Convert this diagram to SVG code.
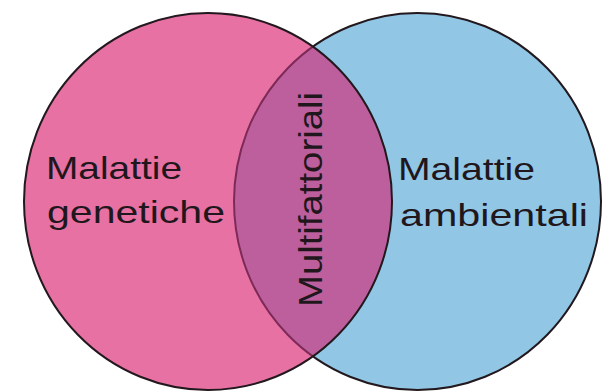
<svg xmlns="http://www.w3.org/2000/svg" width="607" height="392" viewBox="0 0 607 392">
  <style>
    .lbl { font-family: "Liberation Sans", Arial, sans-serif; font-size: 32px; fill: #1f171c; }
    .edge { fill: none; stroke: #22181d; stroke-width: 2; }
  </style>
  <defs>
    <clipPath id="clipLeft">
      <ellipse cx="208" cy="201.5" rx="184" ry="188.5"/>
    </clipPath>
  </defs>
  <rect width="607" height="392" fill="#ffffff"/>
  <g id="ambientali">
    <ellipse cx="417.5" cy="201.5" rx="183.5" ry="188.5" fill="#92c6e5" stroke="#22181d" stroke-width="2"/>
    <text class="lbl" x="398" y="180" textLength="137" lengthAdjust="spacingAndGlyphs">Malattie</text>
    <text class="lbl" x="400" y="226" textLength="188" lengthAdjust="spacingAndGlyphs">ambientali</text>
  </g>
  <g id="genetiche">
    <ellipse cx="208" cy="201.5" rx="184" ry="188.5" fill="#e771a3"/>
    <text class="lbl" x="46" y="179" textLength="136" lengthAdjust="spacingAndGlyphs">Malattie</text>
    <text class="lbl" x="47" y="223" textLength="178" lengthAdjust="spacingAndGlyphs">genetiche</text>
  </g>
  <g id="multifattoriali">
    <g clip-path="url(#clipLeft)">
      <ellipse cx="417.5" cy="201.5" rx="183.5" ry="188.5" fill="#be5f9d" stroke="#7d2a58" stroke-width="2"/>
    </g>
    <text class="lbl" style="font-size:34px" transform="translate(322,307) rotate(-90)" x="0" y="0" textLength="215" lengthAdjust="spacingAndGlyphs">Multifattoriali</text>
  </g>
  <g id="genetiche-border">
    <ellipse class="edge" cx="208" cy="201.5" rx="184" ry="188.5"/>
  </g>
  <g id="connectors"></g>
</svg>
